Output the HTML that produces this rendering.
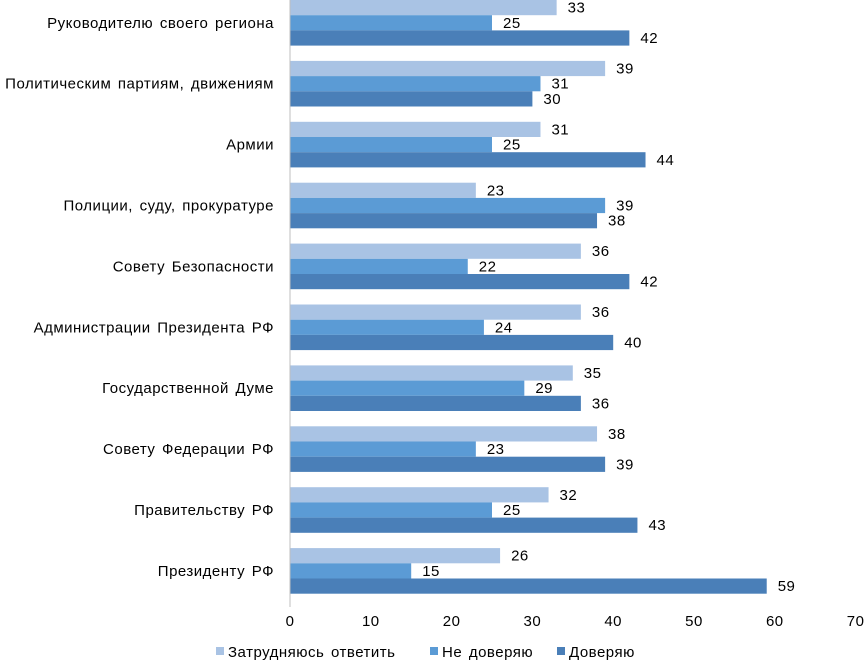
<!DOCTYPE html>
<html><head><meta charset="utf-8"><style>
body{margin:0;background:#fff;font-family:"Liberation Sans",sans-serif;}
svg text{font-family:"Liberation Sans",sans-serif;letter-spacing:0.5px;word-spacing:2px;}
</style></head><body>
<svg id="c" width="867" height="661"></svg>
<script>
const categories=["Руководителю своего региона","Политическим партиям, движениям","Армии","Полиции, суду, прокуратуре","Совету Безопасности","Администрации Президента РФ","Государственной Думе","Совету Федерации РФ","Правительству РФ","Президенту РФ"];
const hardToSay=[33,39,31,23,36,36,35,38,32,26];
const distrust=[25,31,25,39,22,24,29,23,25,15];
const trust=[42,30,44,38,42,40,36,39,43,59];
const ticks=[0,10,20,30,40,50,60,70];
const seriesNames=["Затрудняюсь ответить","Не доверяю","Доверяю"];
const colors=["#a9c3e4","#5b9bd5","#4a7fb8"];
const svg=document.getElementById('c');
const NS="http://www.w3.org/2000/svg";
const x0=290,pxPer=8.08,top0=0,pitch=60.9,bh=15.2;
const X=v=>x0+v*pxPer;
function mk(t,a,txt){const e=document.createElementNS(NS,t);for(const k in a)e.setAttribute(k,a[k]);if(txt!==undefined)e.textContent=txt;svg.appendChild(e);return e;}
const series=[hardToSay,distrust,trust];
categories.forEach((c,i)=>{
  const gy=top0+i*pitch;
  const l=mk('text',{x:274,y:gy+bh*1.5+5,'text-anchor':'end','font-size':15,fill:'#000'},c);
  
  
  series.forEach((s,j)=>{
    const y=gy+j*bh;
    const r=mk('rect',{x:x0,y:y,width:X(s[i])-x0,height:bh,fill:colors[j]});
    
    
    const t=mk('text',{x:X(s[i])+11,y:y+bh/2+5,'font-size':15,fill:'#000'},s[i]);
    
    
  });
});
const ax=mk('line',{x1:x0,y1:0,x2:x0,y2:607,stroke:'#bfbfbf','stroke-width':1});


ticks.forEach(t=>{
  const e=mk('text',{x:X(t),y:626,'text-anchor':'middle','font-size':15,fill:'#000'},t);
  
  
});
const lx=[216,430,557];
seriesNames.forEach((n,j)=>{
  const r=mk('rect',{x:lx[j],y:647,width:8,height:8,fill:colors[j]});
  
  
  const t=mk('text',{x:lx[j]+12,y:657,'font-size':15,fill:'#000'},n);
  
  
});
</script>
</body></html>
